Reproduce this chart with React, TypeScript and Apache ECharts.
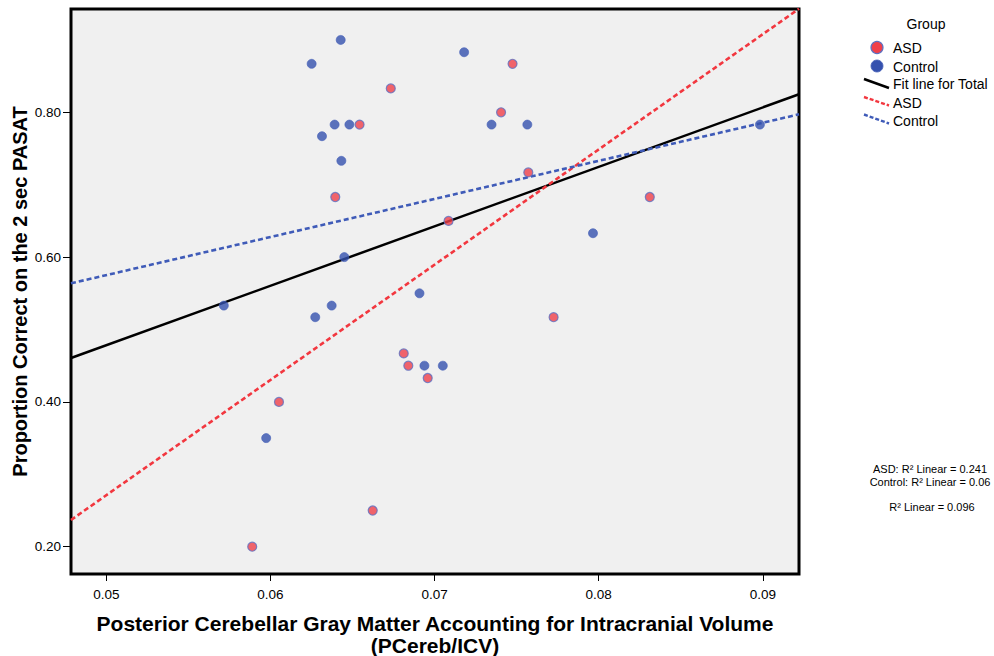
import React, { useEffect, useRef } from "react";
import * as echarts from "echarts";

// ---- data ----
const controlX = [0.05716, 0.06251, 0.06428, 0.06391, 0.06481, 0.06314, 0.06432, 0.0645, 0.06373, 0.06273, 0.05974, 0.06908, 0.06938, 0.0705, 0.0718, 0.07347, 0.07565, 0.07965, 0.08982];
const controlY = [0.533, 0.867, 0.9, 0.783, 0.783, 0.767, 0.733, 0.6, 0.533, 0.517, 0.35, 0.55, 0.45, 0.45, 0.883, 0.783, 0.783, 0.633, 0.783];
const asdX = [0.06733, 0.06543, 0.07475, 0.07405, 0.07571, 0.06395, 0.08311, 0.07085, 0.07725, 0.06812, 0.0684, 0.06958, 0.06052, 0.05889, 0.06623];
const asdY = [0.833, 0.783, 0.867, 0.8, 0.717, 0.683, 0.683, 0.65, 0.517, 0.467, 0.45, 0.433, 0.4, 0.2, 0.25];

const fitX = [0.04785, 0.0922];
const fitTotalY = [0.4606, 0.8249];
const fitAsdY = [0.2369, 0.943];
const fitControlY = [0.5638, 0.7972];

const xTicks = [0.05, 0.06, 0.07, 0.08, 0.09];
const yTicks = [0.2, 0.4, 0.6, 0.8];
const xRange = [0.04785, 0.0922];
const yRange = [0.1623, 0.9427];

const legendItems = ["ASD", "Control", "Fit line for Total", "ASD", "Control"];
const r2Texts = ["ASD: R² Linear = 0.241", "Control: R² Linear = 0.06", "R² Linear = 0.096"];

const BLUE = "#3551ae";
const RED = "#f0404a";
const ASD_BORDER = "#5f72c2";
const FONT = "Liberation Sans, Arial, sans-serif";

const zip = (xs: number[], ys: number[]) => xs.map((x, i) => [x, ys[i]]);

export default function App() {
  const ref = useRef<HTMLDivElement>(null);
  useEffect(() => {
    if (!ref.current) return;
    const chart = echarts.init(ref.current, null, { renderer: "svg" });
    const textStyle = (x: number, y: number, text: string, size: number, align = "left") => ({
      type: "text",
      x,
      y,
      style: { text, fontSize: size, fontFamily: FONT, fill: "#000", align, verticalAlign: "middle" },
    });
    const option: any = {
      animation: false,
      backgroundColor: "#fff",
      grid: {
        left: 71,
        top: 9,
        right: 195,
        bottom: 82,
        show: true,
        containLabel: false,
        outerBoundsMode: "none",
        backgroundColor: "#f0f0f0",
        borderColor: "#000",
        borderWidth: 3,
      },
      xAxis: {
        type: "value",
        min: xRange[0],
        max: xRange[1],
        splitLine: { show: false },
        axisLine: { show: false },
        axisTick: { show: true, length: 7, lineStyle: { color: "#000", width: 1 }, customValues: xTicks },
        axisLabel: {
          customValues: xTicks,
          formatter: (v: number) => v.toFixed(2),
          fontSize: 13.5,
          fontFamily: FONT,
          color: "#000",
          margin: 13,
        },
        name: "Posterior Cerebellar Gray Matter Accounting for Intracranial Volume\n(PCereb/ICV)",
        nameLocation: "middle",
        nameGap: 38,
        nameTextStyle: { fontSize: 21, fontWeight: "bold", fontFamily: FONT, color: "#000", lineHeight: 22, verticalAlign: "top" },
      },
      yAxis: {
        type: "value",
        min: yRange[0],
        max: yRange[1],
        splitLine: { show: false },
        axisLine: { show: false },
        axisTick: { show: true, length: 8, lineStyle: { color: "#000", width: 1 }, customValues: yTicks },
        axisLabel: {
          customValues: yTicks,
          formatter: (v: number) => v.toFixed(2),
          fontSize: 13.5,
          fontFamily: FONT,
          color: "#000",
          margin: 10,
        },
        name: "Proportion Correct on the 2 sec PASAT",
        nameLocation: "middle",
        nameGap: 41,
        nameMoveOverlap: false,
        nameTextStyle: { fontSize: 20, fontWeight: "bold", fontFamily: FONT, color: "#000" },
      },
      series: [
        {
          type: "line",
          data: zip(fitX, fitTotalY),
          symbol: "none",
          lineStyle: { color: "#000", width: 2.5 },
          z: 2,
        },
        {
          type: "line",
          data: zip(fitX, fitAsdY),
          symbol: "none",
          clip: true,
          lineStyle: { color: "#f2373f", width: 2.6, type: [5, 3] },
          z: 2,
        },
        {
          type: "line",
          data: zip(fitX, fitControlY),
          symbol: "none",
          lineStyle: { color: "#3f5bb8", width: 2.6, type: [5, 3] },
          z: 2,
        },
        {
          type: "scatter",
          data: zip(controlX, controlY),
          symbol: "circle",
          symbolSize: 9,
          itemStyle: { color: BLUE, borderColor: "#4560b8", borderWidth: 0.8 },
          z: 3,
        },
        {
          type: "scatter",
          data: zip(asdX, asdY),
          symbol: "circle",
          symbolSize: 9,
          itemStyle: { color: RED, borderColor: ASD_BORDER, borderWidth: 1.2 },
          z: 3,
        },
      ],
      graphic: [
        textStyle(926, 24, "Group", 14, "center"),
        { type: "circle", shape: { cx: 877, cy: 47.5, r: 6 }, style: { fill: RED, stroke: ASD_BORDER, lineWidth: 1.2 } },
        textStyle(893, 48, legendItems[0], 14),
        { type: "circle", shape: { cx: 877, cy: 66, r: 6 }, style: { fill: BLUE, stroke: "#4560b8", lineWidth: 0.8 } },
        textStyle(893, 66.5, legendItems[1], 14),
        { type: "line", shape: { x1: 864, y1: 79, x2: 889, y2: 88 }, style: { stroke: "#000", lineWidth: 2.5 } },
        textStyle(893, 84, legendItems[2], 14),
        { type: "line", shape: { x1: 864, y1: 97, x2: 889, y2: 105.5 }, style: { stroke: "#f2373f", lineWidth: 2.4, lineDash: [4, 2] } },
        textStyle(893, 102.5, legendItems[3], 14),
        { type: "line", shape: { x1: 864, y1: 114.5, x2: 889, y2: 123.5 }, style: { stroke: "#3f5bb8", lineWidth: 2.4, lineDash: [4, 2] } },
        textStyle(893, 120.5, legendItems[4], 14),
        textStyle(930, 469, r2Texts[0], 11, "center"),
        textStyle(930, 481.5, r2Texts[1], 11, "center"),
        textStyle(932, 507, r2Texts[2], 11, "center"),
      ],
    };
    chart.setOption(option);
    return () => chart.dispose();
  }, []);
  return <div ref={ref} style={{ position: "fixed", left: 0, top: 0, width: 994, height: 656 }} />;
}
